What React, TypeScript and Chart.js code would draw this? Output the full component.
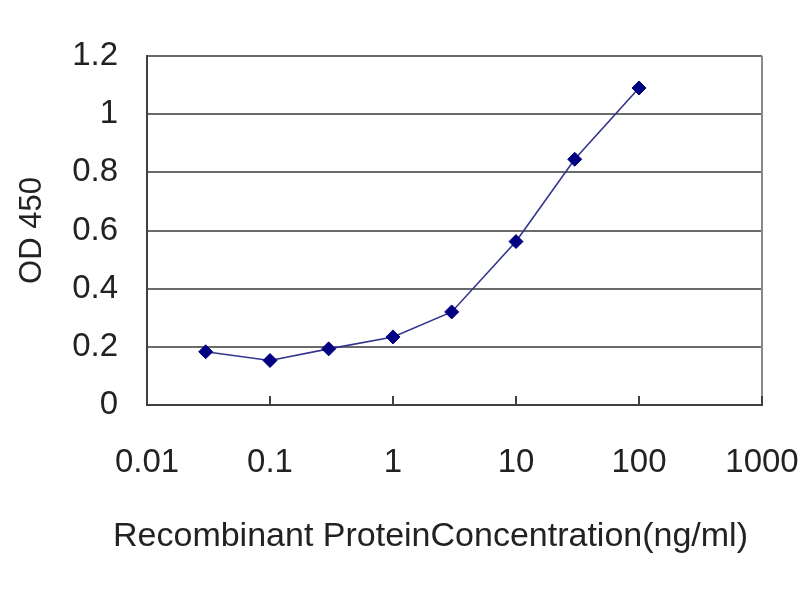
import { useEffect, useRef } from 'react';
import { Chart, registerables } from 'chart.js';

Chart.register(...registerables);

// ---- data ----
const concentrations = [0.03, 0.1, 0.3, 1, 3, 10, 30, 100];
const od450 = [0.183, 0.153, 0.193, 0.234, 0.32, 0.562, 0.845, 1.09];
const xTickValues = [0.01, 0.1, 1, 10, 100, 1000];
const xTickLabels = ['0.01', '0.1', '1', '10', '100', '1000'];
const yTickValues = [0, 0.2, 0.4, 0.6, 0.8, 1, 1.2];
const yTickLabels = ['0', '0.2', '0.4', '0.6', '0.8', '1', '1.2'];
const xTitle = 'Recombinant ProteinConcentration(ng/ml)';
const yTitle = 'OD 450';

const framePlugin = {
  id: 'frame',
  beforeDatasetsDraw(chart: any) {
    const { ctx, chartArea, scales } = chart;
    ctx.save();
    // right border of plot area
    ctx.strokeStyle = '#8a8a8a';
    ctx.lineWidth = 2;
    ctx.beginPath();
    ctx.moveTo(chartArea.right, chartArea.top);
    ctx.lineTo(chartArea.right, chartArea.bottom);
    ctx.stroke();
    // inside tick marks on x axis
    ctx.strokeStyle = '#404040';
    ctx.lineWidth = 2;
    const xs = scales.x;
    xTickValues.forEach((v) => {
      const px = xs.getPixelForValue(v);
      ctx.beginPath();
      ctx.moveTo(px, chartArea.bottom);
      ctx.lineTo(px, chartArea.bottom - 9);
      ctx.stroke();
    });
    ctx.restore();
  },
};

// x-axis title drawn centred a little left of the plot centre, as in the original
const xTitlePlugin = {
  id: 'xTitle',
  afterDraw(chart: any) {
    const { ctx, chartArea } = chart;
    ctx.save();
    ctx.font = '34px "Liberation Sans", Arial, sans-serif';
    ctx.fillStyle = '#222';
    ctx.textAlign = 'center';
    ctx.textBaseline = 'middle';
    const cx = (chartArea.left + chartArea.right) / 2 - 24;
    ctx.fillText(xTitle, cx, chartArea.bottom + 132);
    ctx.restore();
  },
};

export default function App() {
  const ref = useRef<HTMLCanvasElement>(null);

  useEffect(() => {
    if (!ref.current) return;
    Chart.defaults.font.family = '"Liberation Sans", Arial, sans-serif';
    Chart.defaults.color = '#222';
    const chart = new Chart(ref.current, {
      type: 'line',
      data: {
        datasets: [
          {
            data: concentrations.map((c, i) => ({ x: c, y: od450[i] })),
            borderColor: '#34348e',
            borderWidth: 1.6,
            backgroundColor: '#000080',
            pointBackgroundColor: '#000080',
            pointBorderColor: '#000080',
            pointStyle: 'rectRot',
            pointRadius: 7,
            pointBorderWidth: 1,
            tension: 0,
            fill: false,
          },
        ],
      },
      options: {
        animation: false,
        responsive: false,
        devicePixelRatio: 1,
        layout: { padding: { top: 56, right: 38, bottom: 45, left: 0 } },
        plugins: {
          legend: { display: false },
          tooltip: { enabled: false },
        },
        scales: {
          x: {
            type: 'logarithmic',
            min: 0.01,
            max: 1000,
            afterBuildTicks: (scale: any) => {
              scale.ticks = xTickValues.map((v) => ({ value: v }));
            },
            afterFit: (scale: any) => {
              scale.height = 150;
              scale.paddingLeft = 0;
              scale.paddingRight = 0;
            },
            ticks: {
              autoSkip: false,
              maxRotation: 0,
              padding: 38,
              font: { size: 33 },
              color: '#222',
              callback: (_v: any, i: number) => xTickLabels[i],
            },
            grid: { display: false, drawTicks: false },
            border: { display: true, color: '#404040', width: 2 },
            title: { display: false },
          },
          y: {
            type: 'linear',
            min: 0,
            max: 1.2,
            afterBuildTicks: (scale: any) => {
              scale.ticks = yTickValues.map((v) => ({ value: v }));
            },
            afterFit: (scale: any) => {
              scale.width = 147;
              scale.paddingTop = 0;
              scale.paddingBottom = 0;
            },
            ticks: {
              padding: 29,
              font: { size: 33 },
              color: '#222',
              callback: (_v: any, i: number) => yTickLabels[i],
            },
            grid: { color: '#6a6a6a', lineWidth: 2, drawTicks: false },
            border: { display: true, color: '#404040', width: 2 },
            title: {
              display: true,
              text: yTitle,
              font: { size: 31 },
              color: '#222',
              padding: { top: 14, bottom: 0 },
            },
          },
        },
      },
      plugins: [framePlugin, xTitlePlugin],
    });
    return () => chart.destroy();
  }, []);

  return (
    <div style={{ position: 'absolute', left: 0, top: 0, width: 800, height: 600, background: '#fff' }}>
      <canvas ref={ref} width={800} height={600} />
    </div>
  );
}
